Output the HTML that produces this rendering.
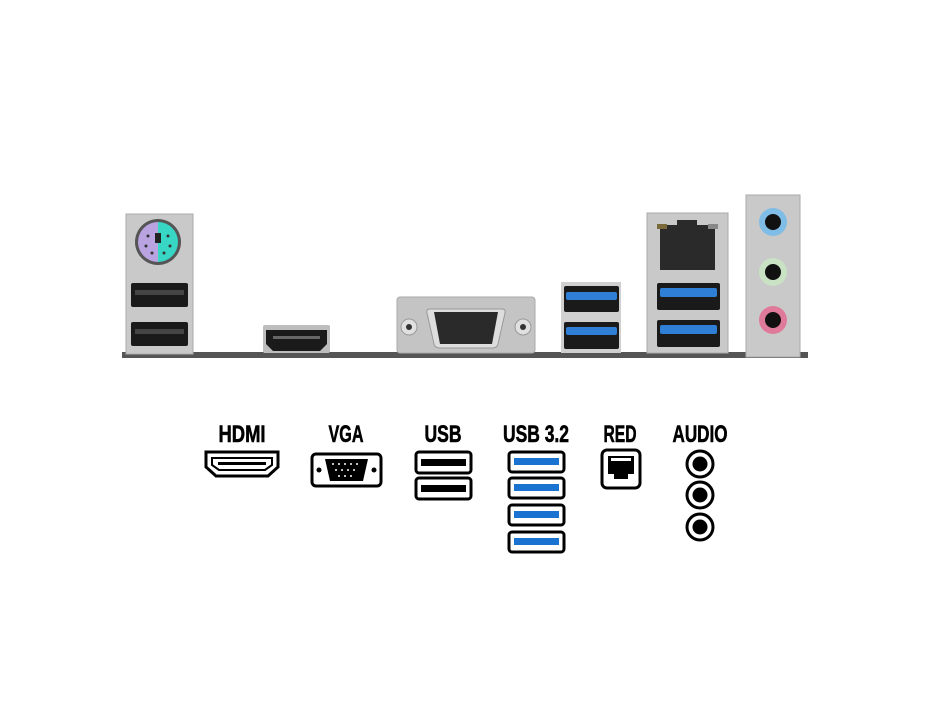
<!DOCTYPE html>
<html><head><style>
html,body{margin:0;padding:0;background:#fff;}
svg{display:block;}
text{font-family:"Liberation Sans",sans-serif;font-weight:bold;font-size:24px;fill:#000;text-anchor:middle;stroke:#000;stroke-width:0.6;}
</style></head><body>
<svg width="930" height="708" viewBox="0 0 930 708" xmlns="http://www.w3.org/2000/svg">
<rect width="930" height="708" fill="#fff"/>
<rect x="122" y="352" width="686" height="6" fill="#555"/>
<rect x="126" y="214" width="67" height="140" fill="#c9c9c9" stroke="#aaa"/>
<circle cx="158" cy="242" r="23" fill="#555"/>
<path d="M158 222 A20 20 0 0 0 158 262 Z" fill="#b9a3e0"/>
<path d="M158 222 A20 20 0 0 1 158 262 Z" fill="#38d6c4"/>
<rect x="155" y="233" width="6" height="10" fill="#222"/>
<g fill="#333"><circle cx="148" cy="236" r="1.5"/><circle cx="168" cy="236" r="1.5"/><circle cx="146" cy="246" r="1.5"/><circle cx="170" cy="246" r="1.5"/><circle cx="152" cy="253" r="1.5"/><circle cx="164" cy="253" r="1.5"/></g>
<rect x="131" y="283" width="57" height="24" rx="2" fill="#1a1a1a"/>
<rect x="135" y="290" width="49" height="5" fill="#444"/>
<rect x="131" y="322" width="57" height="24" rx="2" fill="#1a1a1a"/>
<rect x="135" y="329" width="49" height="5" fill="#444"/>
<rect x="263" y="325" width="67" height="28" rx="2" fill="#bdbdbd"/>
<path d="M266 330 H327 V344 L320 351 H273 L266 344 Z" fill="#1a1a1a"/>
<rect x="273" y="336" width="47" height="3" fill="#666"/>
<rect x="397" y="297" width="138" height="56" rx="3" fill="#c4c4c4" stroke="#aaa"/>
<circle cx="409" cy="327" r="8" fill="#e0e0e0" stroke="#999"/><circle cx="409" cy="327" r="3" fill="#333"/>
<circle cx="523" cy="327" r="8" fill="#e0e0e0" stroke="#999"/><circle cx="523" cy="327" r="3" fill="#333"/>
<path d="M430 309 H502 Q506 309 505 313 L498 344 Q497 348 492 348 H440 Q435 348 434 344 L427 313 Q426 309 430 309 Z" fill="#ddd" stroke="#999"/>
<path d="M434 312 H498 L492 344 H440 Z" fill="#2a2a2a"/>
<rect x="561" y="282" width="60" height="71" fill="#d0d0d0"/>
<rect x="564" y="286" width="55" height="26" rx="2" fill="#1a1a1a"/>
<rect x="566" y="292" width="51" height="8" rx="2" fill="#2f7fd6"/>
<rect x="564" y="322" width="55" height="27" rx="2" fill="#1a1a1a"/>
<rect x="566" y="327" width="51" height="8" rx="2" fill="#2f7fd6"/>
<rect x="647" y="213" width="81" height="140" fill="#c9c9c9" stroke="#aaa"/>
<path d="M660 225 H677 V220 H697 V225 H715 V270 H660 Z" fill="#2a2a2a"/>
<rect x="657" y="224" width="10" height="5" fill="#7a6a3a"/>
<rect x="708" y="224" width="10" height="5" fill="#888"/>
<rect x="657" y="283" width="63" height="27" rx="2" fill="#1a1a1a"/>
<rect x="660" y="288" width="57" height="9" rx="2" fill="#2f7fd6"/>
<rect x="657" y="320" width="63" height="27" rx="2" fill="#1a1a1a"/>
<rect x="660" y="325" width="57" height="9" rx="2" fill="#2f7fd6"/>
<rect x="746" y="195" width="54" height="162" fill="#c9c9c9" stroke="#aaa"/>
<circle cx="773" cy="222" r="14" fill="#7fbde6"/><circle cx="773" cy="222" r="8" fill="#111"/>
<circle cx="773" cy="272" r="14" fill="#c9e2c4"/><circle cx="773" cy="272" r="8" fill="#111"/>
<circle cx="773" cy="320" r="14" fill="#e07a9a"/><circle cx="773" cy="320" r="8" fill="#111"/>
<text x="242" y="442" textLength="47" lengthAdjust="spacingAndGlyphs">HDMI</text>
<text x="346" y="442" textLength="35" lengthAdjust="spacingAndGlyphs">VGA</text>
<text x="443" y="442" textLength="37" lengthAdjust="spacingAndGlyphs">USB</text>
<text x="536" y="442" textLength="66" lengthAdjust="spacingAndGlyphs">USB 3.2</text>
<text x="620" y="442" textLength="33" lengthAdjust="spacingAndGlyphs">RED</text>
<text x="700" y="442" textLength="55" lengthAdjust="spacingAndGlyphs">AUDIO</text>
<path d="M206 452 H278 V467 L268 476 H216 L206 467 Z" fill="#fff" stroke="#000" stroke-width="3"/>
<path d="M212 458 H272 V465 L265 470 H219 L212 465 Z" fill="none" stroke="#000" stroke-width="2"/>
<rect x="218" y="462" width="48" height="3" fill="#000"/>
<rect x="312" y="454" width="69" height="32" rx="4" fill="#fff" stroke="#000" stroke-width="3"/>
<circle cx="319" cy="470" r="2.5" fill="#000"/><circle cx="374" cy="470" r="2.5" fill="#000"/>
<path d="M325 459 H368 L363 481 H330 Z" fill="#000"/>
<g fill="#fff"><circle cx="333" cy="464" r="1"/><circle cx="339" cy="464" r="1"/><circle cx="345" cy="464" r="1"/><circle cx="351" cy="464" r="1"/><circle cx="357" cy="464" r="1"/><circle cx="336" cy="470" r="1"/><circle cx="342" cy="470" r="1"/><circle cx="348" cy="470" r="1"/><circle cx="354" cy="470" r="1"/><circle cx="339" cy="476" r="1"/><circle cx="345" cy="476" r="1"/><circle cx="351" cy="476" r="1"/></g>
<rect x="416" y="452" width="55" height="21" rx="3" fill="#fff" stroke="#000" stroke-width="3"/>
<rect x="421" y="459" width="45" height="7" fill="#000"/>
<rect x="416" y="478" width="55" height="21" rx="3" fill="#fff" stroke="#000" stroke-width="3"/>
<rect x="421" y="485" width="45" height="7" fill="#000"/>
<g>
<rect x="509" y="452" width="55" height="20" rx="3" fill="#fff" stroke="#000" stroke-width="3"/><rect x="514" y="458" width="45" height="7" fill="#1a73d0"/>
<rect x="509" y="478" width="55" height="20" rx="3" fill="#fff" stroke="#000" stroke-width="3"/><rect x="514" y="484" width="45" height="7" fill="#1a73d0"/>
<rect x="509" y="505" width="55" height="20" rx="3" fill="#fff" stroke="#000" stroke-width="3"/><rect x="514" y="511" width="45" height="7" fill="#1a73d0"/>
<rect x="509" y="532" width="55" height="20" rx="3" fill="#fff" stroke="#000" stroke-width="3"/><rect x="514" y="538" width="45" height="7" fill="#1a73d0"/>
</g>
<rect x="602" y="450" width="38" height="38" rx="5" fill="#fff" stroke="#000" stroke-width="3"/>
<path d="M608 456 H634 V474 H628 V479 H614 V474 H608 Z" fill="#000"/>
<rect x="611" y="458" width="20" height="3" fill="#fff"/>
<g fill="#fff" stroke="#000" stroke-width="3">
<circle cx="700" cy="464" r="13"/><circle cx="700" cy="495" r="13"/><circle cx="700" cy="527" r="13"/>
</g>
<circle cx="700" cy="464" r="7.5" fill="#000"/><circle cx="700" cy="495" r="7.5" fill="#000"/><circle cx="700" cy="527" r="7.5" fill="#000"/>
</svg>
</body></html>
